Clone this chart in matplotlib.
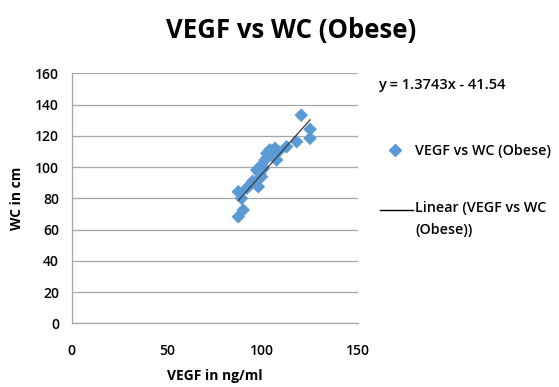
import matplotlib
matplotlib.use("Agg")
import matplotlib.pyplot as plt
import numpy as np
from matplotlib.lines import Line2D

plt.rcParams['font.family'] = ['Open Sans', 'DejaVu Sans']

vegf = [120.4, 125.0, 125.0, 118.0, 112.7, 107.5, 104.0, 106.6, 102.3, 101.4,
        99.6, 97.0, 99.6, 97.9, 93.5, 91.8, 87.4, 89.1, 90.0, 87.4,
        103.0, 105.0, 98.7, 95.0, 108.5, 100.5]
wc = [133.2, 124.2, 118.4, 116.2, 113.0, 104.5, 111.0, 112.0, 108.8, 104.5,
      101.3, 98.1, 93.8, 87.4, 88.5, 86.4, 84.2, 80.0, 72.5, 68.2,
      107.0, 110.0, 96.0, 91.0, 110.0, 99.0]
slope, intercept = 1.3743, -41.54
title = "VEGF vs WC (Obese)"
x_ticks = [0, 50, 100, 150]
y_ticks = [0, 20, 40, 60, 80, 100, 120, 140, 160]

W, H = 559, 387
fig = plt.figure(figsize=(5.59, 3.87), dpi=100)
ax = fig.add_axes([0.128, 0.1646, 0.512, 0.6460])

ax.scatter(vegf, wc, marker='D', s=48, color='#5B9BD5', edgecolors='none', zorder=3)
xs = np.array([min(vegf), max(vegf)])
ax.plot(xs, slope * xs + intercept, color='#3a3a3a', lw=0.9, zorder=4)

ax.set_xlim(0, 150)
ax.set_ylim(0, 160)
ax.set_xticks(x_ticks)
ax.set_yticks(y_ticks)
ax.grid(axis='y', color='#a6a6a6', lw=0.9)
ax.set_axisbelow(True)
for s in ['top', 'right']:
    ax.spines[s].set_visible(False)
for s in ['left', 'bottom']:
    ax.spines[s].set_color('#a6a6a6')
    ax.spines[s].set_linewidth(0.9)
ax.tick_params(axis='y', length=0, labelsize=10, pad=9)
ax.tick_params(axis='x', length=0, labelsize=10, pad=15)
for lab in ax.get_xticklabels() + ax.get_yticklabels():
    lab.set_fontweight('semibold')
ax.set_xlabel("VEGF in ng/ml", fontsize=10, fontweight='bold', labelpad=8)
ax.set_ylabel("WC in cm", fontsize=10, fontweight='bold', labelpad=8)

fig.text(0.52, 0.92, title, ha='center', va='center', fontsize=18.5, fontweight='bold')
fig.text(0.676, 0.78, "y = 1.3743x - 41.54", fontsize=10.5, fontweight='semibold', va='center')

handles = [Line2D([], [], marker='D', ls='none', color='#5B9BD5', markersize=6.5)]
leg = fig.legend(handles, ["VEGF vs WC (Obese)"],
                 loc='upper left', bbox_to_anchor=(0.651, 0.66), frameon=False,
                 prop={'size': 10.3, 'weight': 'semibold'},
                 handlelength=2.5, handletextpad=0.2)

# trendline legend entry
fig.add_artist(Line2D([380 / W, 413 / W], [1 - 210 / H, 1 - 210 / H],
                      color='black', lw=1, transform=fig.transFigure))
fig.text(415 / W, 1 - 201 / H, "Linear (VEGF vs WC\n(Obese))", fontsize=10.3,
         fontweight='semibold', va='top', ha='left', linespacing=1.75)
fig.savefig("out.png", dpi=100)
